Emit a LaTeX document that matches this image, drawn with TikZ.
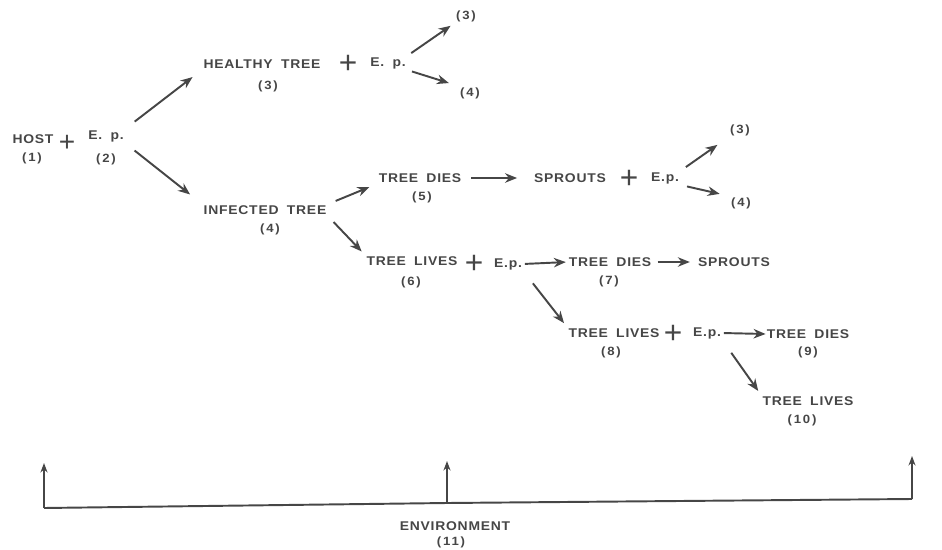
\documentclass[tikz,border=0pt]{standalone}
\usepackage{fontspec}
\setmainfont{Liberation Sans}
\newfontfamily\diagfont{Liberation Sans Bold}[FakeStretch=1.1, LetterSpace=6, WordSpace=1.8]
\newfontfamily\numfont{Liberation Sans Bold}[FakeStretch=1.1, LetterSpace=15]
\usepackage{tikz}
\usetikzlibrary{arrows.meta}
\definecolor{inkgray}{HTML}{464646}

\begin{document}
\begin{tikzpicture}[
	x=0.02cm, y=-0.02cm,
	word/.style = {text=inkgray, font=\diagfont\fontsize{7.2}{8}\selectfont, inner sep=0.5pt},
	num/.style = {text=inkgray, font=\numfont\fontsize{6.8}{8}\selectfont, inner sep=0.5pt},
	plus/.style = {text=inkgray, font=\fontsize{18}{18}\selectfont, inner sep=0pt},
	arrow/.style = {draw=inkgray, line width=1.1pt, -{Stealth[length=2.4mm, width=1.9mm]}, shorten <=3pt, shorten >=3pt},
	envarrow/.style = {draw=inkgray, line width=0.9pt, -{Stealth[length=1.9mm, width=1.4mm]}}
	]
	\useasboundingbox (0,0) rectangle (942,550);
	
	\node[word] (host) at (33,139) {HOST};
	\node[num] (n1) at (32,158) {(1)};
	\node[plus, font=\fontsize{16}{16}\selectfont] (p1) at (67,143) {+};
	\node[word] (ep1) at (106,136) {E. p.};
	\node[num] (n2) at (106,159) {(2)};
	
	\node[word] (healthy) at (262,64) {HEALTHY TREE};
	\node[num] (n3) at (268,86) {(3)};
	\node[plus] (p2) at (348,64) {+};
	\node[word] (ep2) at (388,63) {E. p.};
	\node[num] (h3) at (466,16) {(3)};
	\node[num] (h4) at (470,93) {(4)};
	
	\node[word] (infected) at (265,210) {INFECTED TREE};
	\node[num] (n4) at (270,229) {(4)};
	
	\node[word] (dies5) at (420,178) {TREE DIES};
	\node[num] (n5) at (422,197) {(5)};
	\node[word] (sprouts1) at (570,178) {SPROUTS};
	\node[plus] (p3) at (629,179) {+};
	\node[word] (ep3) at (665,178) {E.p.};
	\node[num] (s3) at (740,130) {(3)};
	\node[num] (s4) at (741,203) {(4)};
	
	\node[word] (lives6) at (412,261) {TREE LIVES};
	\node[num] (n6) at (411,282) {(6)};
	\node[plus] (p4) at (474,264) {+};
	\node[word] (ep4) at (508,264) {E.p.};
	\node[word] (dies7) at (610,262) {TREE DIES};
	\node[num] (n7) at (609,281) {(7)};
	\node[word] (sprouts2) at (734,262) {SPROUTS};
	
	\node[word] (lives8) at (614,333) {TREE LIVES};
	\node[num] (n8) at (611,352) {(8)};
	\node[plus] (p5) at (673,334) {+};
	\node[word] (ep5) at (707,333) {E.p.};
	\node[word] (dies9) at (808,334) {TREE DIES};
	\node[num] (n9) at (808,352) {(9)};
	\node[word] (lives10) at (808,401) {TREE LIVES};
	\node[num] (n10) at (802,420) {(10)};
	
	\node[word] (env) at (455,526) {ENVIRONMENT};
	\node[num] (n11) at (451,542) {(11)};
	
	\draw[arrow, shorten <=7pt, shorten >=7pt] (ep1.north east) -- (healthy.south west);
	\draw[arrow, shorten <=7pt, shorten >=9pt] (ep1.south east) -- (infected.north west);
	\draw[arrow] (ep2.north east) -- (h3.south west);
	\draw[arrow, shorten >=6pt] (ep2.south east) -- (h4.north west);
	\draw[arrow, shorten <=5pt, shorten >=5pt] (infected.north east) -- (dies5.south west);
	\draw[arrow, shorten <=5pt] (infected.south east) -- (lives6.north west);
	\draw[arrow, shorten <=5pt, shorten >=9pt] (dies5.east) -- (sprouts1.west);
	\draw[arrow, shorten <=4pt, shorten >=8pt] (ep3.north east) -- (s3.south west);
	\draw[arrow, shorten <=4pt, shorten >=6pt] (ep3.south east) -- (s4.north west);
	\draw[arrow, shorten <=1pt, shorten >=1pt] (ep4.east) -- (dies7.west);
	\draw[arrow, shorten >=4pt] (dies7.east) -- (sprouts2.west);
	\draw[arrow, shorten <=9pt] (ep4.south east) -- (lives8.north west);
	\draw[arrow, shorten <=1pt, shorten >=0pt] (ep5.east) -- (dies9.west);
	\draw[arrow, shorten <=9pt] (ep5.south east) -- (lives10.north west);
	
	\coordinate (envL) at (44,508);
	\coordinate (envM) at (447,503);
	\coordinate (envR) at (912,499);
	\coordinate (tipL) at (44,463);
	\coordinate (tipM) at (447,461);
	\coordinate (tipR) at (912,456);
	\draw[draw=inkgray, line width=1.1pt] (envL) -- (envM) -- (envR);
	\draw[envarrow] (envL) -- (tipL);
	\draw[envarrow] (envM) -- (tipM);
	\draw[envarrow] (envR) -- (tipR);
\end{tikzpicture}
\end{document}
